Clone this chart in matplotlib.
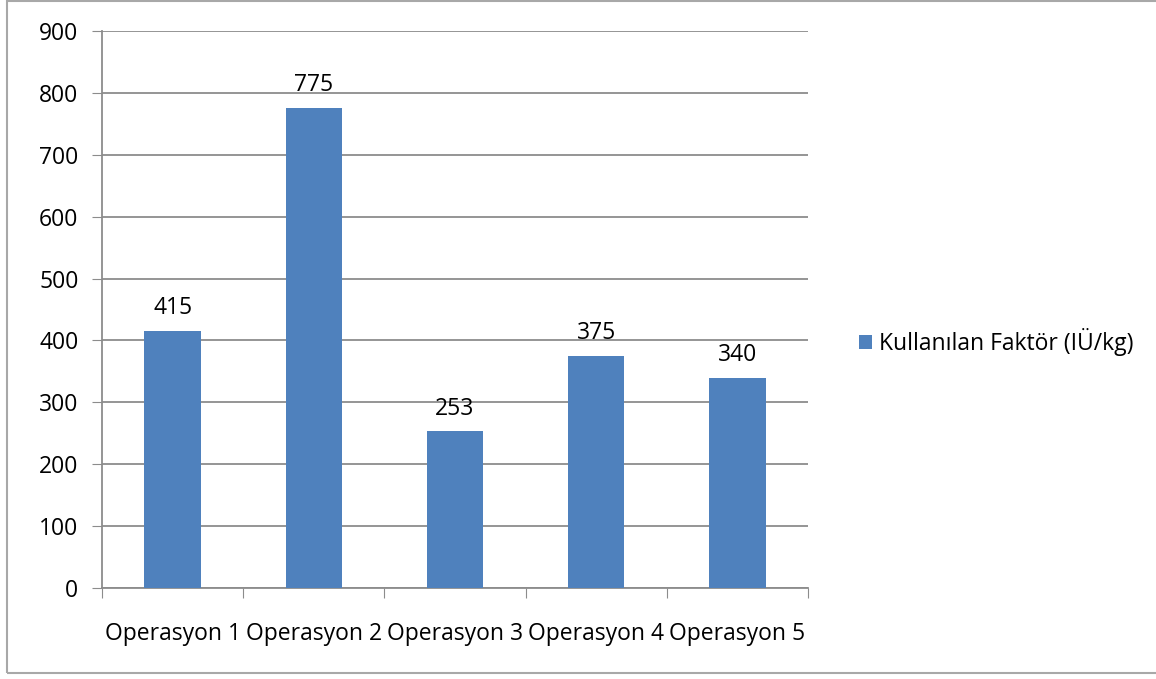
import matplotlib.pyplot as plt
from matplotlib.patches import Rectangle

# Factor usage per operation
categories = ["Operasyon 1", "Operasyon 2", "Operasyon 3", "Operasyon 4", "Operasyon 5"]
values = [415, 775, 253, 375, 340]
series_name = "Kullanılan Faktör (IÜ/kg)"
y_ticks = [0, 100, 200, 300, 400, 500, 600, 700, 800, 900]

plt.rcParams['font.family'] = ['Open Sans', 'DejaVu Sans']

bar_color = '#4F81BD'
grid_color = '#8C8C8C'
fs = 16.5

fig = plt.figure(figsize=(11.56, 6.79), dpi=100)
ax = fig.add_axes([102 / 1156, 1 - 588 / 679, 706 / 1156, 557 / 679])

x = list(range(len(categories)))
bars = ax.bar(x, values, width=0.4, color=bar_color, label=series_name, zorder=3)

# value labels above each bar
for xi, v in zip(x, values):
    ax.text(xi, v + 37, str(v), ha='center', va='center', fontsize=fs, color='black')

ax.set_xlim(-0.5, len(categories) - 0.5)
ax.set_ylim(0, 900)
ax.set_yticks(y_ticks)
ax.tick_params(axis='y', length=7, color=grid_color, labelsize=fs, pad=10)
for t in y_ticks:
    ax.axhline(t, color=grid_color, linewidth=1.3, zorder=1)

# category ticks sit between the bars
ax.set_xticks([i - 0.5 for i in range(len(categories) + 1)])
ax.set_xticklabels([])
ax.tick_params(axis='x', length=7, color=grid_color)
for xi, name in zip(x, categories):
    ax.text(xi, -0.0826, name, transform=ax.get_xaxis_transform(),
            ha='center', va='center', fontsize=fs)

for side in ['top', 'right']:
    ax.spines[side].set_visible(False)
for side in ['left', 'bottom']:
    ax.spines[side].set_color(grid_color)
    ax.spines[side].set_linewidth(1.3)

leg = fig.legend(handles=[bars], labels=[series_name], loc='center left',
                 bbox_to_anchor=(838 / 1156, 1 - 342 / 679), frameon=False,
                 fontsize=fs, handlelength=0.6, handleheight=0.6, handletextpad=0.3)

# outer chart border
fig.patches.append(Rectangle((7 / 1156, 6 / 679), 1.1, 672 / 679,
                             transform=fig.transFigure, fill=False,
                             edgecolor='#A8A8A8', linewidth=1.5))

fig.savefig('out.png', dpi=100)
